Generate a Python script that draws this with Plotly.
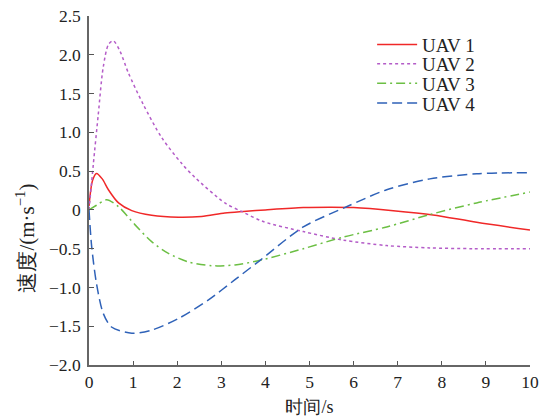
import plotly.graph_objects as go

t1 = [0, 0.08, 0.17, 0.3, 0.44, 0.67, 0.97, 1.42, 2.03, 2.55, 3.08, 3.5, 4.0, 4.86, 5.5, 6.0, 6.9, 7.8, 8.79, 10]
v1 = [0.05, 0.38, 0.47, 0.4, 0.26, 0.09, -0.01, -0.07, -0.095, -0.085, -0.04, -0.02, 0.0, 0.03, 0.035, 0.03, -0.01, -0.065, -0.16, -0.26]

t2 = [0, 0.05, 0.1, 0.21, 0.32, 0.44, 0.55, 0.7, 0.89, 1.23, 1.65, 2.1, 2.4, 3.08, 3.46, 3.95, 4.86, 5.77, 6.75, 7.73, 8.7, 10]
v2 = [0.0, 0.3, 0.6, 1.23, 1.83, 2.13, 2.18, 2.05, 1.77, 1.36, 0.93, 0.6, 0.42, 0.09, -0.02, -0.15, -0.28, -0.39, -0.46, -0.49, -0.5, -0.5]

t3 = [0, 0.17, 0.4, 0.67, 1.04, 1.42, 1.8, 2.25, 2.78, 3.31, 3.88, 4.86, 5.77, 6.75, 7.73, 8.79, 10]
v3 = [0.0, 0.06, 0.13, 0.04, -0.19, -0.41, -0.56, -0.67, -0.72, -0.71, -0.65, -0.5, -0.35, -0.22, -0.06, 0.09, 0.23]

t4 = [0, 0.06, 0.17, 0.32, 0.51, 0.97, 1.42, 2.03, 2.71, 3.31, 3.88, 4.86, 5.84, 6.75, 7.73, 8.79, 10]
v4 = [0.0, -0.47, -0.95, -1.33, -1.51, -1.59, -1.55, -1.4, -1.16, -0.9, -0.65, -0.22, 0.04, 0.26, 0.4, 0.465, 0.48]

names = ["UAV 1", "UAV 2", "UAV 3", "UAV 4"]
colors = ["#f02828", "#b45cc8", "#6cbf44", "#2f62b8"]
dashes = ["solid", "3px,3px", "9px,4px,2px,4px", "10px,5px"]
legend_ids = ["legend", "legend2", "legend3", "legend4"]
legend_y = [0.918, 0.863, 0.807, 0.750]

ytickvals = [-2.0, -1.5, -1.0, -0.5, 0, 0.5, 1.0, 1.5, 2.0, 2.5]
yticktext = ["\u22122.0", "\u22121.5", "\u22121.0", "\u22120.5", "0", "0.5", "1.0", "1.5", "2.0", "2.5"]
xtickvals = list(range(0, 11))

font_family = "Liberation Serif"

fig = go.Figure()
for t, v, n, c, d, lg in zip([t1, t2, t3, t4], [v1, v2, v3, v4], names, colors, dashes, legend_ids):
    fig.add_trace(go.Scatter(x=t, y=v, mode="lines", name=n, legend=lg,
                             line=dict(color=c, width=1.5, dash=d, shape="spline", smoothing=0.8)))

legend_common = dict(x=0.642, xanchor="left", yanchor="middle",
                     bgcolor="rgba(0,0,0,0)", borderwidth=0,
                     font=dict(size=19, family=font_family, color="#222"),
                     itemwidth=40)
legends = {lg: dict(y=yy, **legend_common) for lg, yy in zip(legend_ids, legend_y)}

fig.update_layout(
    width=545, height=417,
    margin=dict(l=89, r=15, t=16, b=52, autoexpand=False),
    paper_bgcolor="white", plot_bgcolor="white",
    font=dict(family=font_family, size=17, color="#222"),
    showlegend=True,
    xaxis=dict(range=[0, 10], tickvals=xtickvals, ticks="inside", ticklen=4,
               tickcolor="#555", showline=True, linecolor="#666", linewidth=1.5,
               showgrid=False, zeroline=False,
               tickfont=dict(size=17.5, family=font_family, color="#222"),
               automargin=False,
               title=dict(text="时间/s", font=dict(size=18, family=font_family, color="#222"), standoff=11)),
    yaxis=dict(range=[-2.0, 2.5], tickvals=ytickvals, ticktext=yticktext,
               ticks="inside", ticklen=5, tickcolor="#555", showline=True,
               linecolor="#666", linewidth=1.5, showgrid=False, zeroline=False,
               automargin=False, ticklabelstandoff=3,
               tickfont=dict(size=17.5, family=font_family, color="#222")),
    **legends,
)

fig.add_annotation(text="速度/(m·s<sup>\u22121</sup>)", xref="paper", yref="paper",
                   x=-0.143, y=0.365, textangle=-90, showarrow=False,
                   font=dict(size=21, family=font_family, color="#222"),
                   xanchor="center", yanchor="middle")

fig.write_html("out.html", config={"displayModeBar": False},
               post_script="document.body.style.margin='0';")
